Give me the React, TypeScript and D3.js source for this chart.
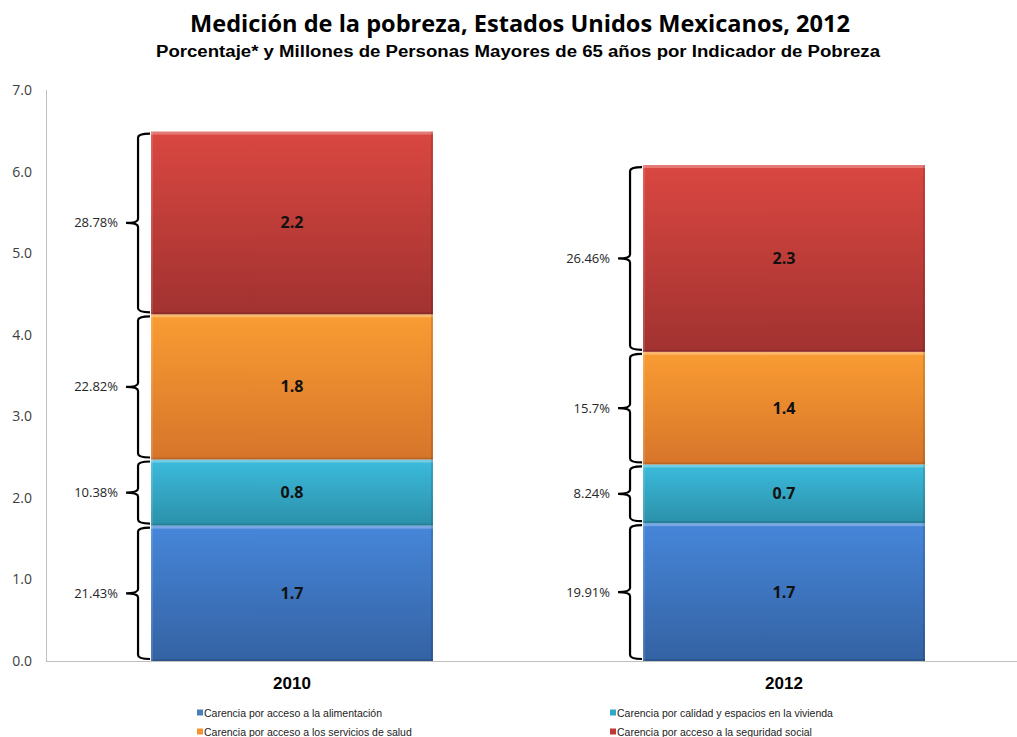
import React from "react";
import * as d3 from "d3";

const years = ["2010", "2012"];
const series = [
  "Carencia por acceso a la alimentación",
  "Carencia por calidad y espacios en la vivienda",
  "Carencia por acceso a los servicios de salud",
  "Carencia por acceso a la seguridad social",
];
// millions of persons, per year, in stacking order (bottom to top)
const values2010 = [1.66, 0.81, 1.78, 2.24];
const values2012 = [1.69, 0.72, 1.38, 2.29];
const pct2010 = ["21.43%", "10.38%", "22.82%", "28.78%"];
const pct2012 = ["19.91%", "8.24%", "15.7%", "26.46%"];
const yTicks = [0, 1, 2, 3, 4, 5, 6, 7];

const colorsTop = ["#4686d9", "#3cbbdc", "#fa9c33", "#da4741"];
const colorsBottom = ["#3462a3", "#2b90aa", "#d6752a", "#a13230"];
const legendColors = ["#4a7ebb", "#31a7c8", "#f59331", "#c0393a"];

const W = 1017;
const H = 737;

function bracePath(xr: number, y0: number, y1: number) {
  const xm = xr - 12;
  const xl = xr - 24;
  const r = 4;
  const ym = (y0 + y1) / 2;
  return `M${xr},${y0} Q${xm},${y0} ${xm},${y0 + r} L${xm},${ym - r} Q${xm},${ym} ${xl},${ym} Q${xm},${ym} ${xm},${ym + r} L${xm},${y1 - r} Q${xm},${y1} ${xr},${y1}`;
}

export default function App() {
  const x = d3
    .scaleBand<string>()
    .domain(years)
    .range([46, 1030])
    .paddingInner(0.427)
    .paddingOuter(0.2135);
  const y = d3.scaleLinear().domain([0, 7]).range([661, 90]);

  const data = [
    { year: "2010", vals: values2010, pct: pct2010 },
    { year: "2012", vals: values2012, pct: pct2012 },
  ];

  const bw = x.bandwidth();
  const fmt = d3.format(".1f");

  return (
    <svg width={W} height={H} style={{ display: "block", position: "absolute", left: 0, top: 0 }}>
      <defs>
        {series.map((_, i) => (
          <linearGradient key={i} id={`g${i}`} x1="0" y1="0" x2="0" y2="1">
            <stop offset="0%" stopColor={colorsTop[i]} />
            <stop offset="100%" stopColor={colorsBottom[i]} />
          </linearGradient>
        ))}
      </defs>
      <rect x={0} y={0} width={W} height={H} fill="#ffffff" />
      <text
        x={520}
        y={32}
        textAnchor="middle"
        fontFamily="'Open Sans', sans-serif"
        fontWeight="bold"
        fontSize={24}
        textLength={660}
        lengthAdjust="spacingAndGlyphs"
        fill="#000"
      >
        Medición de la pobreza, Estados Unidos Mexicanos, 2012
      </text>
      <text
        x={518}
        y={57}
        textAnchor="middle"
        fontFamily="'Liberation Sans', Arial, sans-serif"
        fontWeight="bold"
        fontSize={16}
        textLength={724}
        lengthAdjust="spacingAndGlyphs"
        fill="#000"
      >
        Porcentaje* y Millones de Personas Mayores de 65 años por Indicador de Pobreza
      </text>

      {/* axes */}
      <line x1={46.5} x2={46.5} y1={90} y2={661} stroke="#bfbfbf" strokeWidth={1} />
      <line x1={46} x2={1017} y1={661.5} y2={661.5} stroke="#bfbfbf" strokeWidth={1} />
      {yTicks.map((t) => (
        <text
          key={t}
          x={32}
          y={y(t) + 5}
          textAnchor="end"
          fontFamily="'Open Sans', sans-serif"
          fontSize={14}
          fill="#404040"
        >
          {fmt(t)}
        </text>
      ))}

      {data.map((d) => {
        const x0 = x(d.year) as number;
        const stack = d3.cumsum(d.vals);
        return (
          <g key={d.year}>
            {d.vals.map((v, i) => {
              const base = i === 0 ? 0 : stack[i - 1];
              const top = stack[i];
              const yt = y(top);
              const yb = y(base);
              const h = yb - yt;
              return (
                <g key={i}>
                  <rect x={x0} y={yt} width={bw} height={h} fill={`url(#g${i})`} />
                  <rect x={x0} y={yt} width={bw} height={3} fill="#ffffff" opacity={0.28} />
                  <rect x={x0} y={yb - 2} width={bw} height={2} fill="#000000" opacity={0.12} />
                  <rect x={x0} y={yt} width={2} height={h} fill="#ffffff" opacity={0.12} />
                  <rect x={x0 + bw - 2} y={yt} width={2} height={h} fill="#000000" opacity={0.12} />
                  <text
                    x={x0 + bw / 2}
                    y={(yt + yb) / 2 + 5.5}
                    textAnchor="middle"
                    fontFamily="'Open Sans', sans-serif"
                    fontWeight="bold"
                    fontSize={16}
                    fill="#111"
                  >
                    {fmt(v)}
                  </text>
                  <path
                    d={bracePath(x0 - 1, yt + 2, yb - 2)}
                    fill="none"
                    stroke="#000"
                    strokeWidth={2.2}
                  />
                  <text
                    x={x0 - 33}
                    y={(yt + yb) / 2 + 4.5}
                    textAnchor="end"
                    fontFamily="'Open Sans', sans-serif"
                    fontSize={13}
                    fill="#262626"
                  >
                    {d.pct[i]}
                  </text>
                </g>
              );
            })}
            <text
              x={x0 + bw / 2}
              y={689}
              textAnchor="middle"
              fontFamily="'Liberation Sans', Arial, sans-serif"
              fontWeight="bold"
              fontSize={17}
              fill="#000"
            >
              {d.year}
            </text>
          </g>
        );
      })}

      {/* legend */}
      {series.map((s, i) => {
        const lx = i % 2 === 0 ? 197 : 610;
        const ly = i < 2 ? 713 : 732;
        return (
          <g key={s}>
            <rect x={lx} y={ly - 3.5} width={6} height={6} fill={legendColors[i]} />
            <text
              x={lx + 7}
              y={ly + 3.5}
              fontFamily="'Liberation Sans', Arial, sans-serif"
              fontSize={10.5}
              fill="#222"
            >
              {s}
            </text>
          </g>
        );
      })}
    </svg>
  );
}
